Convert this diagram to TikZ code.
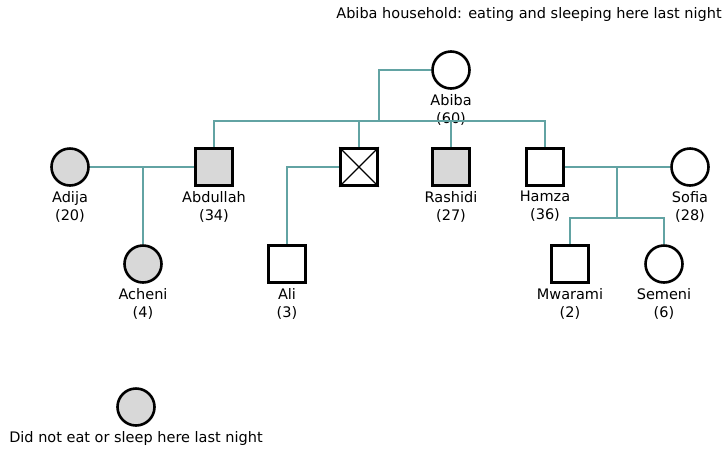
\documentclass[tikz,border=0pt]{standalone}
\usepackage{fontspec}
\setmainfont{DejaVu Sans}
\usetikzlibrary{positioning}
\definecolor{kin}{RGB}{98,163,163}
\definecolor{away}{RGB}{216,216,216}

\tikzset{
  person/.style={draw=black,line width=2.6pt,minimum size=37pt,inner sep=0pt},
  female/.style={person,circle},
  male/.style={person,rectangle},
  absent/.style={fill=away},
  tag/.style={font=\fontsize{14.5}{18}\selectfont,align=center,inner sep=0pt},
  link/.style={draw=kin,line width=1.1pt}
}

\begin{document}
\begin{tikzpicture}[x=1pt,y=-1pt]
  \useasboundingbox (0,0) rectangle (722,448);

  % title
  \node[tag,anchor=center] (title) at (529,14) {Abiba household: eating and sleeping here last night};

  % first generation
  \node[female] (abiba) at (451,70) {};

  % second generation
  \node[female,absent] (adija) at (70,167) {};
  \node[male,absent] (abdullah) at (214,167) {};
  \node[male] (xbox) at (359,167) {};
  \node[male,absent] (rashidi) at (451,167) {};
  \node[male] (hamza) at (545,167) {};
  \node[female] (sofia) at (690,167) {};
  \draw[line width=1.2pt] (xbox.north west) -- (xbox.south east);
  \draw[line width=1.2pt] (xbox.south west) -- (xbox.north east);

  % third generation
  \node[female,absent] (acheni) at (143,264) {};
  \node[male] (ali) at (287,264) {};
  \node[male] (mwarami) at (570,264) {};
  \node[female] (semeni) at (664,264) {};

  % names and ages
  \node[tag,below=4pt of abiba] (abibaL) {Abiba\\(60)};
  \node[tag,below=4pt of adija] (adijaL) {Adija\\(20)};
  \node[tag,below=4pt of abdullah] (abdullahL) {Abdullah\\(34)};
  \node[tag,below=4pt of rashidi] (rashidiL) {Rashidi\\(27)};
  \node[tag,below=4pt of hamza] (hamzaL) {Hamza\\(36)};
  \node[tag,below=4pt of sofia] (sofiaL) {Sofia\\(28)};
  \node[tag,below=4pt of acheni] (acheniL) {Acheni\\(4)};
  \node[tag,below=4pt of ali] (aliL) {Ali\\(3)};
  \node[tag,below=4pt of mwarami] (mwaramiL) {Mwarami\\(2)};
  \node[tag,below=4pt of semeni] (semeniL) {Semeni\\(6)};

  % Abiba's children
  \coordinate (sib) at (379,121);
  \draw[link] (abiba.west) -| (sib);
  \draw[link] (abdullah.north) |- (sib) -| (hamza.north);
  \draw[link] (xbox.north) -- (xbox.north |- sib);
  \draw[link] (rashidi.north) -- (rashidi.north |- sib);

  % Adija and Abdullah
  \draw[link] (adija.east) -- (abdullah.west);
  \draw[link] (acheni.north) -- (acheni.north |- adija.east);

  % Ali
  \draw[link] (xbox.west) -| (ali.north);

  % Hamza and Sofia
  \coordinate (kids) at (617,218);
  \draw[link] (hamza.east) -- (sofia.west);
  \draw[link] (kids |- hamza.east) -- (kids);
  \draw[link] (mwarami.north) |- (kids) -| (semeni.north);

  % legend
  \node[female,absent] (key) at (136,407) {};
  \node[tag,below=4pt of key] (keyL) {Did not eat or sleep here last night};
\end{tikzpicture}
\end{document}
